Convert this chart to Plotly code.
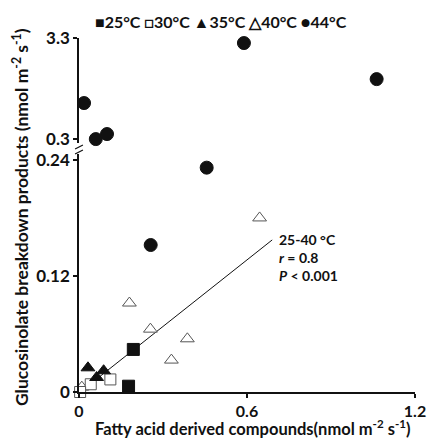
import numpy as np
import plotly.graph_objects as go

# Fatty acid derived compounds (x) and glucosinolate breakdown products (y), nmol m-2 s-1
x_25 = [0.194, 0.177]
y_25 = [0.044, 0.006]
x_30 = [0.112, 0.042, 0.004]
y_30 = [0.013, 0.008, 0.000]
x_35 = [0.032, 0.088, 0.063]
y_35 = [0.025, 0.022, 0.015]
x_40 = [0.645, 0.180, 0.255, 0.387, 0.330, 0.010]
y_40 = [0.180, 0.092, 0.065, 0.055, 0.033, 0.005]
x_44 = [0.589, 1.063, 0.018, 0.060, 0.100, 0.456, 0.256]
y_44 = [3.15, 2.08, 1.37, 0.30, 0.45, 0.232, 0.152]

x_ticks = [0, 0.6, 1.2]
y_low_ticks = [0, 0.12, 0.24]
y_high_ticks = [0.3, 3.3]
split_value = 0.3          # 44 °C values at or above this sit on the upper panel
fit_x_end = 0.69

FONT = "Lato"
INK = "#111111"

fig = go.Figure()

def add_series(x, y, symbol, fill, line_col, size, axis="y"):
    fig.add_trace(go.Scatter(
        x=x, y=y, mode="markers", yaxis=axis, cliponaxis=False, showlegend=False,
        marker=dict(symbol=symbol, size=size, color=fill,
                    line=dict(color=line_col, width=1)),
    ))

# Least-squares line through the 25-40 °C observations
fx = np.array(x_25 + x_30 + x_35 + x_40)
fy = np.array(y_25 + y_30 + y_35 + y_40)
slope, intercept = np.polyfit(fx, fy, 1)
line_x = np.array([fx.min(), fit_x_end])
fig.add_trace(go.Scatter(x=line_x, y=intercept + slope * line_x, mode="lines",
                         line=dict(color=INK, width=1), showlegend=False,
                         hoverinfo="skip"))

add_series(x_40, y_40, "triangle-up", "white", "#555555", 12)
add_series(x_30, y_30, "square", "white", "#555555", 11)
add_series(x_25, y_25, "square", INK, INK, 12)
add_series(x_35, y_35, "triangle-up", INK, INK, 12)

lo_x = [a for a, b in zip(x_44, y_44) if b < split_value]
lo_y = [b for b in y_44 if b < split_value]
hi_x = [a for a, b in zip(x_44, y_44) if b >= split_value]
hi_y = [b for b in y_44 if b >= split_value]
add_series(lo_x, lo_y, "circle", INK, INK, 13)
add_series(hi_x, hi_y, "circle", INK, INK, 13, axis="y2")

axis_common = dict(showline=True, linecolor=INK, linewidth=1.5, ticks="outside",
                   ticklen=4, tickcolor=INK, tickwidth=1.5, showgrid=False,
                   zeroline=False)
x_tickfont = dict(family=FONT, size=16, color=INK, weight="bold")
y_tickfont = dict(family=FONT, size=17, color=INK, weight="bold")

fig.update_layout(
    width=438, height=441,
    margin=dict(l=79, r=17, t=38, b=49),
    paper_bgcolor="white", plot_bgcolor="white",
    xaxis=dict(range=[0, 1.2], tickvals=x_ticks, tickfont=x_tickfont,
               ticktext=[f"{v:g}" for v in x_ticks], **axis_common),
    yaxis=dict(range=[0, 0.246], domain=[0, 0.672], tickvals=y_low_ticks,
               tickfont=y_tickfont,
               ticktext=[f"{v:g}" for v in y_low_ticks], **axis_common),
    yaxis2=dict(range=[0.18, 3.3], domain=[0.703, 1.0], anchor="x",
                tickvals=y_high_ticks, tickfont=y_tickfont,
                ticktext=[f"{v:g}" for v in y_high_ticks], **axis_common),
)

# Axis break marks
def px_to_paper(px, py):
    return (px - 79) / 342, (392 - py) / 354

for py in (149, 154):
    x0, y0 = px_to_paper(75, py)
    x1, y1 = px_to_paper(83, py - 4)
    fig.add_shape(type="line", xref="paper", yref="paper", x0=x0, y0=y0,
                  x1=x1, y1=y1, line=dict(color=INK, width=1.2))

lx, ly = px_to_paper(93, 21)
fig.add_annotation(
    text="<b>■25°C □30°C ▲35°C △40°C ●44°C</b>", xref="paper", yref="paper",
    x=lx, y=ly, xanchor="left", yanchor="middle",
    showarrow=False, font=dict(family=FONT, size=16, color=INK))
tx, ty = px_to_paper(19, 217)
fig.add_annotation(
    text="<b>Glucosinolate breakdown products (nmol m<sup>-2</sup> s<sup>-1</sup>)</b>",
    xref="paper", yref="paper", x=tx, y=ty, xanchor="center", yanchor="middle",
    textangle=-90, showarrow=False, font=dict(family=FONT, size=17.5, color=INK))
tx, ty = px_to_paper(256, 428)
fig.add_annotation(
    text="<b>Fatty acid derived compounds(nmol m<sup>-2</sup> s<sup>-1</sup>)</b>",
    xref="paper", yref="paper", x=tx, y=ty, xanchor="center", yanchor="middle",
    showarrow=False, font=dict(family=FONT, size=16.5, color=INK))
tx, ty = px_to_paper(281, 257)
fig.add_annotation(
    text="<b>25-40 °C</b><br><b><i>r</i> = 0.8</b><br><b><i>P</i> < 0.001</b>",
    xref="paper", yref="paper", x=tx, y=ty,
    xanchor="left", yanchor="middle", align="left", showarrow=False,
    font=dict(family=FONT, size=14, color=INK))

fig.write_html("out.html")
